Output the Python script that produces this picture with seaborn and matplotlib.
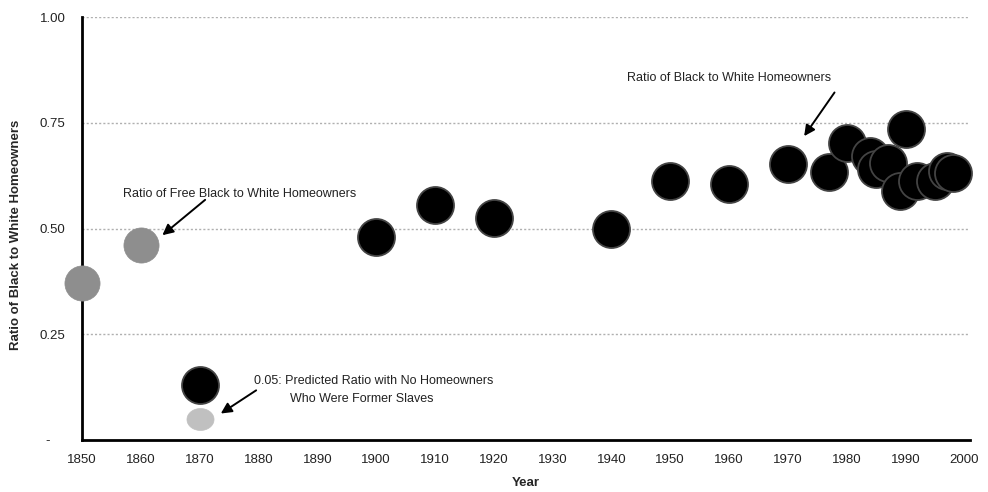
import numpy as np
import pandas as pd
import matplotlib
matplotlib.use("Agg")
import matplotlib.pyplot as plt
from matplotlib.path import Path
import seaborn as sns

# data
free_years = [1850, 1860]
free_ratio = [0.37, 0.46]

pred_years = [1870]
pred_ratio = [0.05]

all_years = [1870, 1900, 1910, 1920, 1940, 1950, 1960, 1970, 1977, 1980, 1984,
             1985, 1987, 1989, 1990, 1992, 1995, 1997, 1998]
all_ratio = [0.13, 0.48, 0.555, 0.525, 0.50, 0.612, 0.605, 0.652, 0.634, 0.703, 0.672,
             0.641, 0.656, 0.589, 0.736, 0.613, 0.613, 0.637, 0.632]

y_ticks = [0, 0.25, 0.5, 0.75, 1.0]
y_labels = ["-    ", "0.25", "0.50", "0.75", "1.00"]
x_ticks = list(range(1850, 2001, 10))

sns.set_style("white")
plt.rcParams['font.family'] = ['Liberation Sans', 'DejaVu Sans']

fig = plt.figure(figsize=(9.88, 4.92), dpi=100)
ax = fig.add_axes([0.083, 0.1057, 0.899, 0.8597])

# flattened circle for the predicted point
t = np.linspace(0, 2 * np.pi, 60)
ellipse = Path(np.column_stack([np.cos(t), 0.81 * np.sin(t)]), closed=True)

df_free = pd.DataFrame({"year": free_years, "ratio": free_ratio})
df_pred = pd.DataFrame({"year": pred_years, "ratio": pred_ratio})
df_all = pd.DataFrame({"year": all_years, "ratio": all_ratio})

for yv in [0.25, 0.5, 0.75, 1.0]:
    ax.axhline(yv, color="#b0b0b0", lw=1.0, ls=(0, (1.5, 1.5)), zorder=0)

sns.scatterplot(data=df_free, x="year", y="ratio", ax=ax, s=640, color="#8e8e8e",
                edgecolor="#8e8e8e", linewidth=0.5, zorder=3, clip_on=False)
sns.scatterplot(data=df_pred, x="year", y="ratio", ax=ax, s=380, marker=ellipse,
                color="#c0c0c0", edgecolor="#c0c0c0", linewidth=0.5, zorder=3, clip_on=False)
sns.scatterplot(data=df_all, x="year", y="ratio", ax=ax, s=710, color="black",
                edgecolor="#444444", linewidth=1.3, zorder=3, clip_on=False)

ax.set_xlim(1850, 2001)
ax.set_ylim(0, 1.0)
ax.set_xticks(x_ticks)
ax.set_yticks(y_ticks)
ax.set_yticklabels(y_labels)
ax.tick_params(axis="both", direction="out", length=4, width=1.5, labelsize=9.5,
               labelcolor="#222222", color="black", pad=6)
ax.tick_params(axis="y", length=5, pad=7)
for side in ["top", "right"]:
    ax.spines[side].set_visible(False)
for side in ["left", "bottom"]:
    ax.spines[side].set_linewidth(2)
    ax.spines[side].set_color("black")

ax.set_xlabel("Year", fontsize=9.5, fontweight="bold", labelpad=8)
ax.set_ylabel("Ratio of Black to White Homeowners", fontsize=9.5, fontweight="bold")
ax.yaxis.set_label_coords(-0.068, 0.485)

arrow = dict(arrowstyle="-|>", color="black", lw=1.4, mutation_scale=16)
ax.annotate("", xy=(1863.3, 0.48), xytext=(1871.3, 0.572), arrowprops=arrow, zorder=4)
ax.text(1857, 0.582, "Ratio of Free Black to White Homeowners", fontsize=9,
        color="#222222", va="center", ha="left")

ax.annotate("", xy=(1972.5, 0.713), xytext=(1978.2, 0.827), arrowprops=arrow, zorder=4)
ax.text(1942.7, 0.855, "Ratio of Black to White Homeowners", fontsize=9,
        color="#222222", va="center", ha="left")

ax.annotate("", xy=(1873.2, 0.059), xytext=(1880, 0.121), arrowprops=arrow, zorder=4)
ax.text(1879.3, 0.140, "0.05: Predicted Ratio with No Homeowners", fontsize=9,
        color="#222222", va="center", ha="left")
ax.text(1885.4, 0.097, "Who Were Former Slaves", fontsize=9,
        color="#222222", va="center", ha="left")

if ax.get_legend():
    ax.get_legend().remove()

fig.savefig("out.png", dpi=100)
